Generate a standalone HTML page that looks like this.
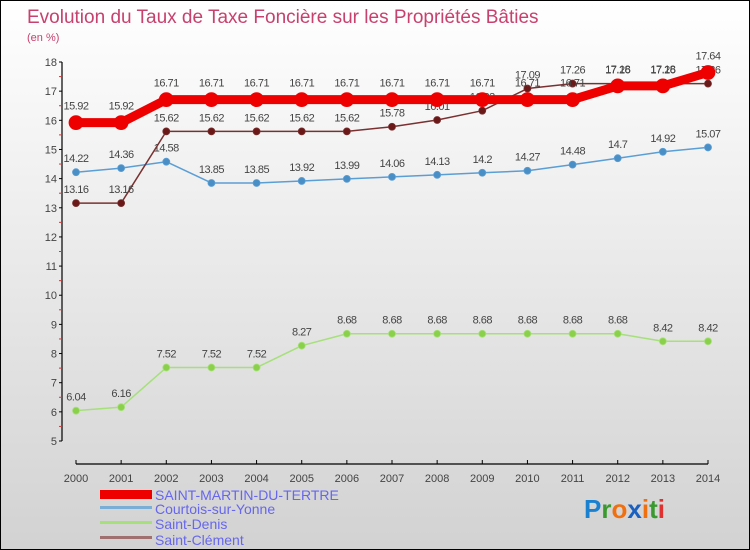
<!DOCTYPE html>
<html><head><meta charset="utf-8"><style>
body{margin:0}
#c{position:relative;width:748px;height:548px;border:1px solid #000;background:linear-gradient(#fff,#d2d2d2);font-family:"Liberation Sans",sans-serif;overflow:hidden}
</style></head><body>
<div id="c">
<svg id="s" width="748" height="548" xmlns="http://www.w3.org/2000/svg">
<text x="26" y="22" font-size="19" fill="#c8406e">Evolution du Taux de Taxe Foncière sur les Propriétés Bâties</text>
<text x="26" y="40" font-size="11" fill="#c8406e">(en %)</text>
<g id="axes"></g><g id="series"></g>
<g>
<rect x="99" y="489" width="52" height="9" fill="#e00"/>
<text x="154" y="499" font-size="14" fill="#6666ee">SAINT-MARTIN-DU-TERTRE</text>
<rect x="99" y="505" width="52" height="3" fill="#7aaed6"/>
<text x="154" y="513" font-size="14" fill="#6666ee">Courtois-sur-Yonne</text>
<rect x="99" y="520" width="52" height="3" fill="#a6e07a"/>
<text x="154" y="528" font-size="14" fill="#6666ee">Saint-Denis</text>
<rect x="99" y="535" width="52" height="3" fill="#a07070"/>
<text x="154" y="544" font-size="14" fill="#6666ee">Saint-Clément</text>
</g>
<text x="583" y="517" font-size="26" font-weight="bold"><tspan fill="#1a80d0">P</tspan><tspan fill="#3a9a30">r</tspan><tspan fill="#f07010">o</tspan><tspan fill="#1a60c0">x</tspan><tspan fill="#f07010">i</tspan><tspan fill="#3a9a30">t</tspan><tspan fill="#e03030">i</tspan></text>
</svg></div>
<script>
const years=[2000,2001,2002,2003,2004,2005,2006,2007,2008,2009,2010,2011,2012,2013,2014];
const yTicks=[5,6,7,8,9,10,11,12,13,14,15,16,17,18];
const stMartin=[15.92,15.92,16.71,16.71,16.71,16.71,16.71,16.71,16.71,16.71,16.71,16.71,17.18,17.18,17.64];
const courtois=[14.22,14.36,14.58,13.85,13.85,13.92,13.99,14.06,14.13,14.2,14.27,14.48,14.7,14.92,15.07];
const stDenis=[6.04,6.16,7.52,7.52,7.52,8.27,8.68,8.68,8.68,8.68,8.68,8.68,8.68,8.42,8.42];
const stClement=[13.16,13.16,15.62,15.62,15.62,15.62,15.62,15.78,16.01,16.33,17.09,17.26,17.26,17.26,17.26];
const NS="http://www.w3.org/2000/svg";
const X=i=>75+i*(707-75)/(years.length-1);
const Y=v=>440-(v-5)*(440-61)/13;
function mk(t,a,p){const e=document.createElementNS(NS,t);for(const k in a)e.setAttribute(k,a[k]);p.appendChild(e);return e;}
const ax=document.getElementById('axes');
let l=mk('line',{x1:61,y1:Y(18),x2:61,y2:440,stroke:'#000','stroke-width':1.2},ax);


yTicks.forEach(v=>{
 mk('line',{x1:58,y1:Y(v),x2:61,y2:Y(v),stroke:'#000'},ax);
 if(v<18)mk('line',{x1:58,y1:Y(v+0.5),x2:61,y2:Y(v+0.5),stroke:'#e03030'},ax);
 const t=mk('text',{x:56,y:Y(v)+4,'font-size':11,fill:'#444','text-anchor':'end'},ax);t.textContent=v;
 
 
});
l=mk('line',{x1:75,y1:463,x2:707,y2:463,stroke:'#000','stroke-width':1.2},ax);


years.forEach((y,i)=>{
 mk('line',{x1:X(i),y1:459,x2:X(i),y2:463,stroke:'#000'},ax);
 const t=mk('text',{x:X(i),y:481,'font-size':11,fill:'#444','text-anchor':'middle'},ax);t.textContent=y;
 
 
});
const sg=document.getElementById('series');
function draw(name,vals,color,w,r,dot){
 const g=mk('g',{},sg);
 
 
 const p=mk('polyline',{points:vals.map((v,i)=>X(i)+','+Y(v)).join(' '),fill:'none',stroke:color,'stroke-width':w,'stroke-linejoin':'round'},g);
 
 
 vals.forEach((v,i)=>{
  const c=mk('circle',{cx:X(i),cy:Y(v),r:r,fill:dot,stroke:color,'stroke-width':0.8},g);
  
  
  const t=mk('text',{x:X(i),y:Y(v)-10-(r>4?3:0),'font-size':11,fill:'#444','text-anchor':'middle','letter-spacing':'-0.5'},g);
  t.textContent=v;
  
  
 });
}
draw('saint-denis',stDenis,'#a6e07a',1.5,3.5,'#8ad04a');
draw('courtois',courtois,'#5a9ed6',1.5,3.5,'#4a8ec6');
draw('saint-clement',stClement,'#7a3030',1.5,3.5,'#6a1818');
draw('saint-martin',stMartin,'#ee0000',9,7,'#ee0000');
</script>
</body></html>
